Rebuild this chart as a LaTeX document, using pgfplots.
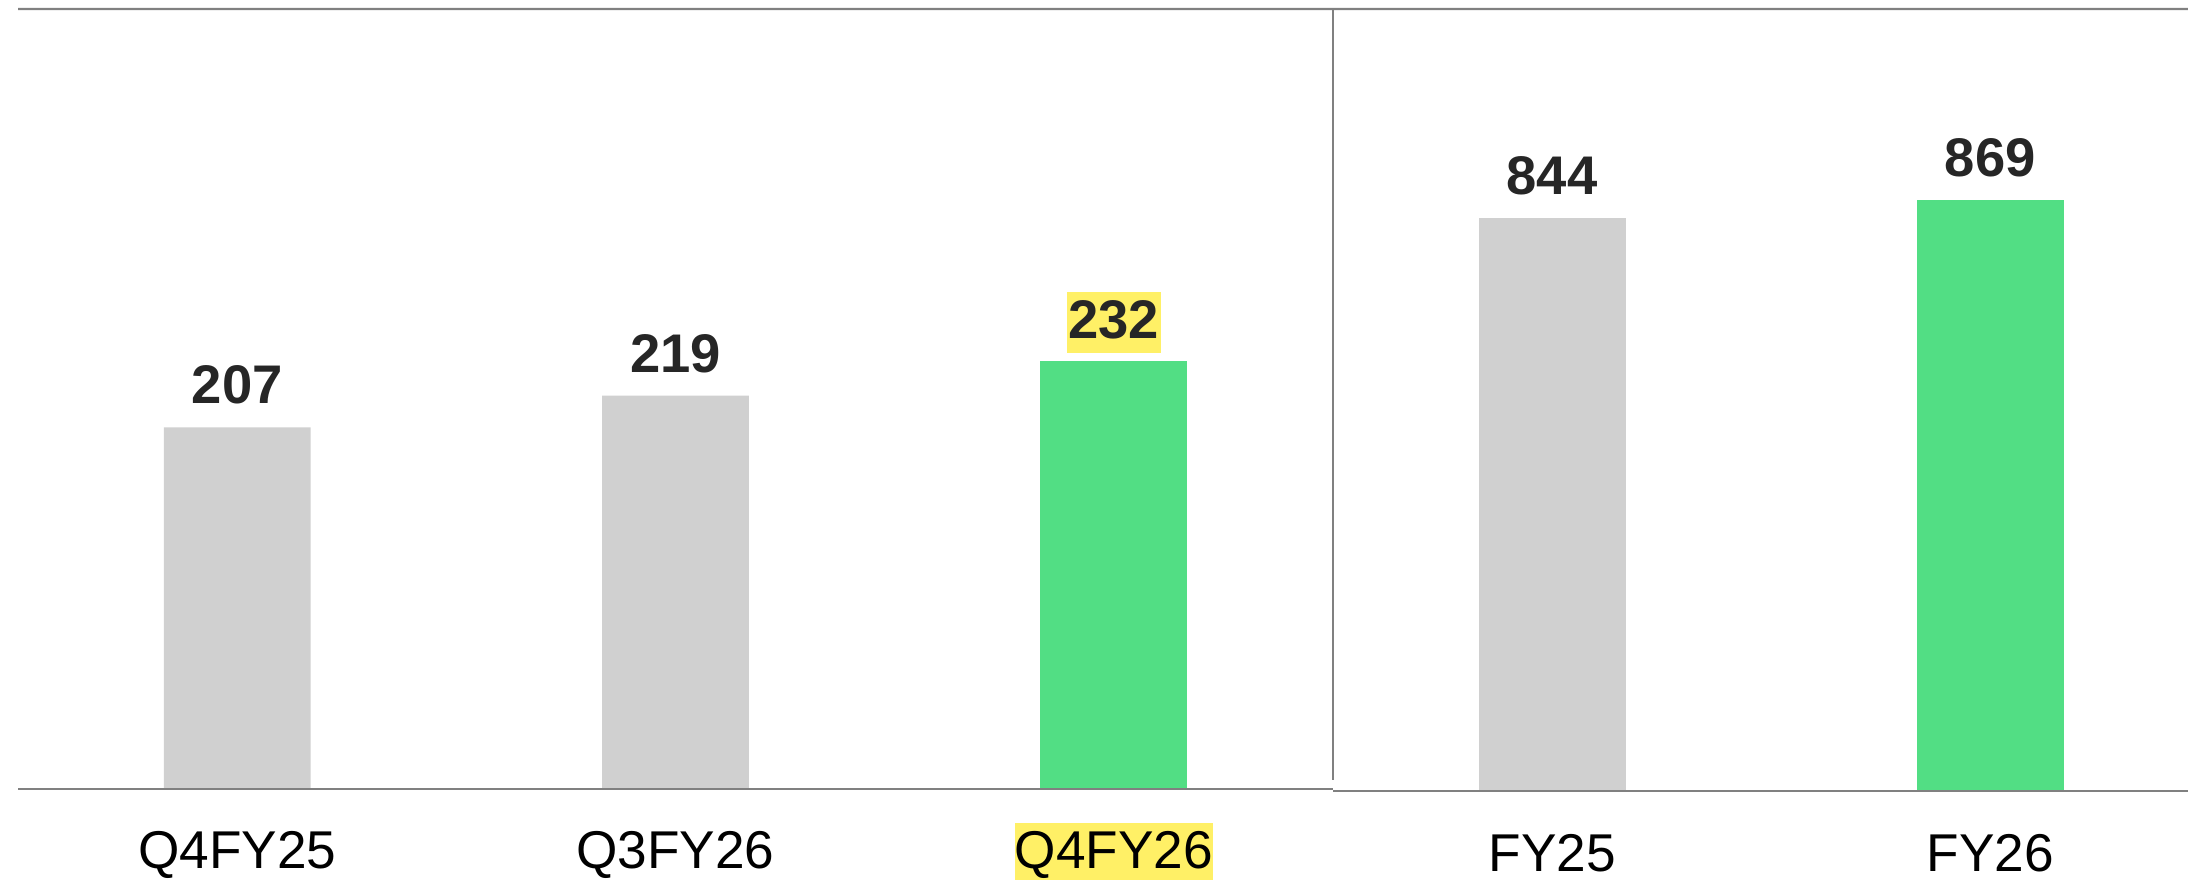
\documentclass[border=0pt]{standalone}
\usepackage{pgfplots}
\pgfplotsset{compat=1.18}
\usepackage{fontspec}
\setmainfont{Liberation Sans}
\definecolor{barGray}{HTML}{D0D0D0}
\definecolor{barGreen}{HTML}{52DE84}
\definecolor{hl}{HTML}{FFF066}
\definecolor{axGray}{HTML}{808080}
\definecolor{valText}{HTML}{262626}
\newcommand\hlbox[1]{{\setlength{\fboxsep}{0pt}\colorbox{hl}{\rule[-3pt]{0pt}{14.25pt}#1}}}
\pgfplotsset{
  panel/.style={
    scale only axis,
    /pgf/number format/assume math mode=true,
    axis line style={draw=none},
    ytick=\empty,
    major tick length=0pt,
    xtick style={draw=none},
    xticklabel style={font=\fontsize{13.3}{16}\selectfont, text=black, anchor=base, inner sep=0pt, yshift=-19.75pt},
    ybar, bar width=36.7pt,
    nodes near coords={\pgfmathprintnumber[assume math mode=true]{\pgfplotspointmeta}},
    every node near coord/.append style={font=\bfseries\fontsize{13.6}{16}\selectfont, text=valText, anchor=south, inner sep=0pt, text depth=0pt, yshift=5.7pt},
  }
}
\begin{document}
\begin{tikzpicture}
\useasboundingbox (0,0) rectangle (547pt,220.5pt);
% left panel: quarters
\begin{axis}[panel, name=left,
  at={(4.5pt,23.25pt)}, anchor=south west,
  width=328.75pt, height=195pt,
  xmin=-0.5, xmax=2.5, ymin=70, ymax=365.5,
  xtick={0,1,2},
  xticklabels={Q4FY25,Q3FY26,{\hlbox{Q4FY26}}},
]
\addplot[fill=barGray, draw=none, bar shift=0pt] coordinates {(0,207) (1,219)};
\addplot[fill=barGreen, draw=none, bar shift=0pt,
  every node near coord/.append style={fill=hl, text height=11.55pt, text depth=3.75pt, inner xsep=0.4pt, yshift=-3.85pt}]
  coordinates {(2,232)};
\end{axis}
% right panel: full year
\begin{axis}[panel, name=right,
  at={(333.25pt,22.75pt)}, anchor=south west,
  width=213.75pt, height=195.5pt,
  xmin=-0.5, xmax=1.451, ymin=48, ymax=1134,
  xtick={0,1},
  xticklabels={FY25,FY26},
  xticklabel style={yshift=-0.4pt},
]
\addplot[fill=barGray, draw=none, bar shift=0pt] coordinates {(0,844)};
\addplot[fill=barGreen, draw=none, bar shift=0pt] coordinates {(1,869)};
\end{axis}
\draw[axGray, line width=0.6pt] (left.north west) -- (right.north east);
\draw[axGray, line width=0.6pt] (left.south west) -- (left.south east);
\draw[axGray, line width=0.6pt] (right.south west) -- (right.south east);
\draw[axGray, line width=0.6pt] (right.north west) -- ([yshift=2.75pt]right.south west);
\end{tikzpicture}
\end{document}
